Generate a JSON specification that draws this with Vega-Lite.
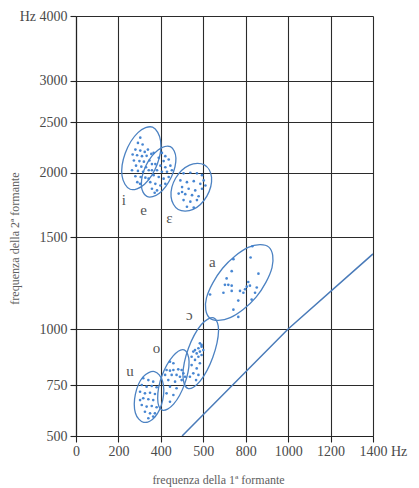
{
  "$schema": "https://vega.github.io/schema/vega-lite/v6.json",
  "width": 297,
  "height": 420,
  "autosize": {"type": "none"},
  "padding": {"left": 76, "top": 16, "right": 46, "bottom": 52},
  "background": "white",
  "config": {
    "view": {"stroke": null},
    "font": "Liberation Serif",
    "axis": {
      "labelFont": "Liberation Serif",
      "titleFont": "Liberation Serif",
      "labelFontSize": 14,
      "labelColor": "#4a4a4a",
      "titleColor": "#5e5e5e",
      "titleFontSize": 12,
      "titleFontWeight": "normal",
      "gridColor": "#2b2b2b",
      "gridWidth": 1.1,
      "gridOpacity": 1,
      "domainColor": "#222222",
      "domainWidth": 1.2,
      "tickColor": "#222222",
      "tickWidth": 1.1,
      "tickSize": 6
    }
  },
  "datasets": {
    "pts": [
      {"v": "i", "x": 303, "y": 2345}, {"v": "i", "x": 292, "y": 2293}, {"v": "i", "x": 314, "y": 2277}, {"v": "i", "x": 280, "y": 2227},
      {"v": "i", "x": 303, "y": 2217}, {"v": "i", "x": 324, "y": 2204}, {"v": "i", "x": 339, "y": 2227}, {"v": "i", "x": 267, "y": 2178},
      {"v": "i", "x": 288, "y": 2171}, {"v": "i", "x": 311, "y": 2162}, {"v": "i", "x": 333, "y": 2165}, {"v": "i", "x": 355, "y": 2184},
      {"v": "i", "x": 273, "y": 2119}, {"v": "i", "x": 299, "y": 2113}, {"v": "i", "x": 320, "y": 2107}, {"v": "i", "x": 346, "y": 2119},
      {"v": "i", "x": 283, "y": 2068}, {"v": "i", "x": 308, "y": 2058}, {"v": "i", "x": 330, "y": 2052}, {"v": "i", "x": 264, "y": 2022},
      {"v": "i", "x": 292, "y": 2016}, {"v": "i", "x": 316, "y": 2007}, {"v": "i", "x": 343, "y": 2022}, {"v": "i", "x": 280, "y": 1969},
      {"v": "i", "x": 305, "y": 1963}, {"v": "i", "x": 327, "y": 1957}, {"v": "i", "x": 289, "y": 1920}, {"v": "i", "x": 302, "y": 1906},
      {"v": "i", "x": 366, "y": 2194}, {"v": "i", "x": 358, "y": 2083},
      {"v": "e", "x": 405, "y": 2194}, {"v": "e", "x": 421, "y": 2162}, {"v": "e", "x": 390, "y": 2146}, {"v": "e", "x": 413, "y": 2113},
      {"v": "e", "x": 437, "y": 2129}, {"v": "e", "x": 374, "y": 2083}, {"v": "e", "x": 398, "y": 2068}, {"v": "e", "x": 421, "y": 2052},
      {"v": "e", "x": 445, "y": 2068}, {"v": "e", "x": 358, "y": 2022}, {"v": "e", "x": 382, "y": 2022}, {"v": "e", "x": 405, "y": 2007},
      {"v": "e", "x": 429, "y": 2007}, {"v": "e", "x": 452, "y": 2022}, {"v": "e", "x": 366, "y": 1978}, {"v": "e", "x": 390, "y": 1963},
      {"v": "e", "x": 413, "y": 1949}, {"v": "e", "x": 437, "y": 1963}, {"v": "e", "x": 350, "y": 1920}, {"v": "e", "x": 374, "y": 1906},
      {"v": "e", "x": 398, "y": 1892}, {"v": "e", "x": 421, "y": 1906}, {"v": "e", "x": 358, "y": 1865}, {"v": "e", "x": 382, "y": 1851},
      {"v": "e", "x": 371, "y": 1832}, {"v": "e", "x": 342, "y": 1949},
      {"v": "ɛ", "x": 507, "y": 1993}, {"v": "ɛ", "x": 539, "y": 1998}, {"v": "ɛ", "x": 570, "y": 1993}, {"v": "ɛ", "x": 594, "y": 1978},
      {"v": "ɛ", "x": 492, "y": 1934}, {"v": "ɛ", "x": 523, "y": 1920}, {"v": "ɛ", "x": 555, "y": 1928}, {"v": "ɛ", "x": 586, "y": 1906},
      {"v": "ɛ", "x": 610, "y": 1892}, {"v": "ɛ", "x": 500, "y": 1879}, {"v": "ɛ", "x": 531, "y": 1865}, {"v": "ɛ", "x": 562, "y": 1851},
      {"v": "ɛ", "x": 594, "y": 1865}, {"v": "ɛ", "x": 484, "y": 1825}, {"v": "ɛ", "x": 515, "y": 1820}, {"v": "ɛ", "x": 547, "y": 1812},
      {"v": "ɛ", "x": 578, "y": 1803}, {"v": "ɛ", "x": 507, "y": 1771}, {"v": "ɛ", "x": 539, "y": 1758}, {"v": "ɛ", "x": 570, "y": 1771},
      {"v": "ɛ", "x": 523, "y": 1720}, {"v": "ɛ", "x": 555, "y": 1714}, {"v": "ɛ", "x": 500, "y": 1838}, {"v": "ɛ", "x": 602, "y": 1934},
      {"v": "a", "x": 831, "y": 1446}, {"v": "a", "x": 742, "y": 1368}, {"v": "a", "x": 823, "y": 1378}, {"v": "a", "x": 734, "y": 1295},
      {"v": "a", "x": 860, "y": 1280}, {"v": "a", "x": 710, "y": 1251}, {"v": "a", "x": 702, "y": 1219}, {"v": "a", "x": 718, "y": 1219},
      {"v": "a", "x": 734, "y": 1215}, {"v": "a", "x": 734, "y": 1189}, {"v": "a", "x": 695, "y": 1180}, {"v": "a", "x": 773, "y": 1189},
      {"v": "a", "x": 789, "y": 1180}, {"v": "a", "x": 797, "y": 1197}, {"v": "a", "x": 805, "y": 1210}, {"v": "a", "x": 820, "y": 1215},
      {"v": "a", "x": 812, "y": 1233}, {"v": "a", "x": 852, "y": 1206}, {"v": "a", "x": 844, "y": 1180}, {"v": "a", "x": 828, "y": 1146},
      {"v": "a", "x": 765, "y": 1141}, {"v": "a", "x": 742, "y": 1096}, {"v": "a", "x": 765, "y": 1060}, {"v": "a", "x": 632, "y": 1171},
      {"v": "ɔ", "x": 584, "y": 936}, {"v": "ɔ", "x": 592, "y": 921}, {"v": "ɔ", "x": 577, "y": 914}, {"v": "ɔ", "x": 561, "y": 906},
      {"v": "ɔ", "x": 600, "y": 906}, {"v": "ɔ", "x": 584, "y": 899}, {"v": "ɔ", "x": 569, "y": 891}, {"v": "ɔ", "x": 553, "y": 899},
      {"v": "ɔ", "x": 592, "y": 884}, {"v": "ɔ", "x": 577, "y": 876}, {"v": "ɔ", "x": 545, "y": 876}, {"v": "ɔ", "x": 561, "y": 862},
      {"v": "ɔ", "x": 584, "y": 847}, {"v": "ɔ", "x": 545, "y": 839}, {"v": "ɔ", "x": 569, "y": 824}, {"v": "ɔ", "x": 553, "y": 802},
      {"v": "ɔ", "x": 537, "y": 787}, {"v": "ɔ", "x": 577, "y": 795}, {"v": "ɔ", "x": 566, "y": 772}, {"v": "ɔ", "x": 592, "y": 929},
      {"v": "o", "x": 443, "y": 854}, {"v": "o", "x": 459, "y": 847}, {"v": "o", "x": 427, "y": 817}, {"v": "o", "x": 443, "y": 814},
      {"v": "o", "x": 459, "y": 817}, {"v": "o", "x": 482, "y": 820}, {"v": "o", "x": 498, "y": 817}, {"v": "o", "x": 506, "y": 802},
      {"v": "o", "x": 420, "y": 795}, {"v": "o", "x": 451, "y": 795}, {"v": "o", "x": 474, "y": 795}, {"v": "o", "x": 490, "y": 787},
      {"v": "o", "x": 514, "y": 787}, {"v": "o", "x": 435, "y": 772}, {"v": "o", "x": 467, "y": 765}, {"v": "o", "x": 498, "y": 772},
      {"v": "o", "x": 443, "y": 742}, {"v": "o", "x": 474, "y": 734}, {"v": "o", "x": 427, "y": 709}, {"v": "o", "x": 459, "y": 701},
      {"v": "o", "x": 443, "y": 668},
      {"v": "u", "x": 317, "y": 780}, {"v": "u", "x": 341, "y": 772}, {"v": "u", "x": 364, "y": 765}, {"v": "u", "x": 310, "y": 750},
      {"v": "u", "x": 333, "y": 742}, {"v": "u", "x": 357, "y": 745}, {"v": "u", "x": 380, "y": 739}, {"v": "u", "x": 302, "y": 717},
      {"v": "u", "x": 325, "y": 709}, {"v": "u", "x": 349, "y": 712}, {"v": "u", "x": 372, "y": 706}, {"v": "u", "x": 317, "y": 685},
      {"v": "u", "x": 341, "y": 680}, {"v": "u", "x": 364, "y": 676}, {"v": "u", "x": 310, "y": 652}, {"v": "u", "x": 333, "y": 644},
      {"v": "u", "x": 357, "y": 647}, {"v": "u", "x": 380, "y": 641}, {"v": "u", "x": 325, "y": 619}, {"v": "u", "x": 349, "y": 611},
      {"v": "u", "x": 364, "y": 595}, {"v": "u", "x": 341, "y": 587}, {"v": "u", "x": 372, "y": 611}, {"v": "u", "x": 302, "y": 676}
    ],
    "ell": [
      {"v": "i", "k": 0, "x": 361, "y": 2449}, {"v": "i", "k": 1, "x": 399, "y": 2311}, {"v": "i", "k": 2, "x": 383, "y": 2081}, {"v": "i", "k": 3, "x": 323, "y": 1903},
      {"v": "i", "k": 4, "x": 255, "y": 1861}, {"v": "i", "k": 5, "x": 217, "y": 1973}, {"v": "i", "k": 6, "x": 232, "y": 2191}, {"v": "i", "k": 7, "x": 292, "y": 2395},
      {"v": "e", "k": 0, "x": 445, "y": 2256}, {"v": "e", "k": 1, "x": 471, "y": 2143}, {"v": "e", "k": 2, "x": 450, "y": 1964}, {"v": "e", "k": 3, "x": 393, "y": 1827},
      {"v": "e", "k": 4, "x": 334, "y": 1801}, {"v": "e", "k": 5, "x": 308, "y": 1896}, {"v": "e", "k": 6, "x": 330, "y": 2069}, {"v": "e", "k": 7, "x": 387, "y": 2223},
      {"v": "ɛ", "k": 0, "x": 605, "y": 2075}, {"v": "ɛ", "k": 1, "x": 639, "y": 1960}, {"v": "ɛ", "k": 2, "x": 617, "y": 1804}, {"v": "ɛ", "k": 3, "x": 552, "y": 1701},
      {"v": "ɛ", "k": 4, "x": 482, "y": 1700}, {"v": "ɛ", "k": 5, "x": 448, "y": 1800}, {"v": "ɛ", "k": 6, "x": 470, "y": 1954}, {"v": "ɛ", "k": 7, "x": 535, "y": 2073},
      {"v": "a", "k": 0, "x": 909, "y": 1441}, {"v": "a", "k": 1, "x": 924, "y": 1317}, {"v": "a", "k": 2, "x": 849, "y": 1158}, {"v": "a", "k": 3, "x": 727, "y": 1056},
      {"v": "a", "k": 4, "x": 630, "y": 1055}, {"v": "a", "k": 5, "x": 615, "y": 1154}, {"v": "a", "k": 6, "x": 691, "y": 1313}, {"v": "a", "k": 7, "x": 812, "y": 1439},
      {"v": "ɔ", "k": 0, "x": 649, "y": 1055}, {"v": "ɔ", "k": 1, "x": 672, "y": 993}, {"v": "ɔ", "k": 2, "x": 645, "y": 874}, {"v": "ɔ", "k": 3, "x": 585, "y": 767},
      {"v": "ɔ", "k": 4, "x": 527, "y": 733}, {"v": "ɔ", "k": 5, "x": 504, "y": 796}, {"v": "ɔ", "k": 6, "x": 530, "y": 914}, {"v": "ɔ", "k": 7, "x": 590, "y": 1021},
      {"v": "o", "k": 0, "x": 510, "y": 907}, {"v": "o", "k": 1, "x": 533, "y": 854}, {"v": "o", "k": 2, "x": 512, "y": 754}, {"v": "o", "k": 3, "x": 460, "y": 656},
      {"v": "o", "k": 4, "x": 407, "y": 627}, {"v": "o", "k": 5, "x": 385, "y": 684}, {"v": "o", "k": 6, "x": 405, "y": 791}, {"v": "o", "k": 7, "x": 458, "y": 880},
      {"v": "u", "k": 0, "x": 370, "y": 810}, {"v": "u", "k": 1, "x": 408, "y": 767}, {"v": "u", "k": 2, "x": 409, "y": 677}, {"v": "u", "k": 3, "x": 372, "y": 593},
      {"v": "u", "k": 4, "x": 319, "y": 567}, {"v": "u", "k": 5, "x": 280, "y": 613}, {"v": "u", "k": 6, "x": 280, "y": 705}, {"v": "u", "k": 7, "x": 316, "y": 786}
    ],
    "diag": [
      {"x": 500, "y": 500}, {"x": 1000, "y": 1000}, {"x": 1400, "y": 1400}
    ],
    "lab": [
      {"t": "i", "x": 225, "y": 1771},
      {"t": "e", "x": 319, "y": 1699},
      {"t": "ɛ", "x": 440, "y": 1640},
      {"t": "a", "x": 643, "y": 1353},
      {"t": "ɔ", "x": 534, "y": 1069},
      {"t": "o", "x": 380, "y": 914},
      {"t": "u", "x": 255, "y": 814}
    ]
  },
  "encoding": {
    "x": {
      "field": "x", "type": "quantitative",
      "scale": {"domain": [0, 1400], "nice": false, "zero": false},
      "axis": {
        "values": [0, 200, 400, 600, 800, 1000, 1200, 1400],
        "format": "d",
        "grid": true,
        "labelFlush": false,
        "labelOverlap": false,
        "labelPadding": 2,
        "labelExpr": "datum.value == 600 ? '500' : datum.value == 1400 ? '1400   Hz' : datum.label",
        "labelAlign": {"condition": {"test": "datum.value == 1400", "value": "left"}, "value": "center"},
        "labelOffset": {"condition": {"test": "datum.value == 1400", "value": -14}, "value": 0},
        "title": "frequenza della 1ª formante",
        "titleX": 142,
        "titleY": 43,
        "titleBaseline": "middle",
        "titleAlign": "center"
      }
    },
    "y": {
      "field": "y", "type": "quantitative",
      "scale": {
        "domain": [500, 750, 1000, 1250, 1500, 1750, 2000, 2500, 3000, 3500, 4000],
        "range": [420, 369, 313, 262.6, 221.4, 186.6, 156.5, 106, 64.9, 30.1, 0],
        "nice": false, "zero": false
      },
      "axis": {
        "values": [500, 750, 1000, 1500, 2000, 2500, 3000, 4000],
        "format": "d",
        "grid": true,
        "labelOverlap": false,
        "labelPadding": 3,
        "labelExpr": "datum.value == 4000 ? 'Hz 4000' : datum.label",
        "title": "frequenza della 2ª formante",
        "titleX": -62,
        "titleY": 222,
        "titleBaseline": "middle",
        "titleAlign": "center",
        "titleAngle": -90
      }
    }
  },
  "layer": [
    {
      "data": {"name": "diag"},
      "mark": {"type": "line", "color": "#4a7bb9", "strokeWidth": 1.5, "clip": true}
    },
    {
      "data": {"name": "ell"},
      "mark": {"type": "line", "color": "#4c82c2", "strokeWidth": 1.3, "interpolate": "cardinal-closed"},
      "encoding": {
        "detail": {"field": "v"},
        "order": {"field": "k", "type": "quantitative"}
      }
    },
    {
      "data": {"name": "pts"},
      "mark": {"type": "circle", "color": "#3d7fd0", "size": 7, "opacity": 0.95}
    },
    {
      "data": {"name": "lab"},
      "mark": {"type": "text", "font": "Liberation Serif", "fontSize": 15, "color": "#555555", "baseline": "middle", "align": "center"},
      "encoding": {"text": {"field": "t"}}
    }
  ]
}
